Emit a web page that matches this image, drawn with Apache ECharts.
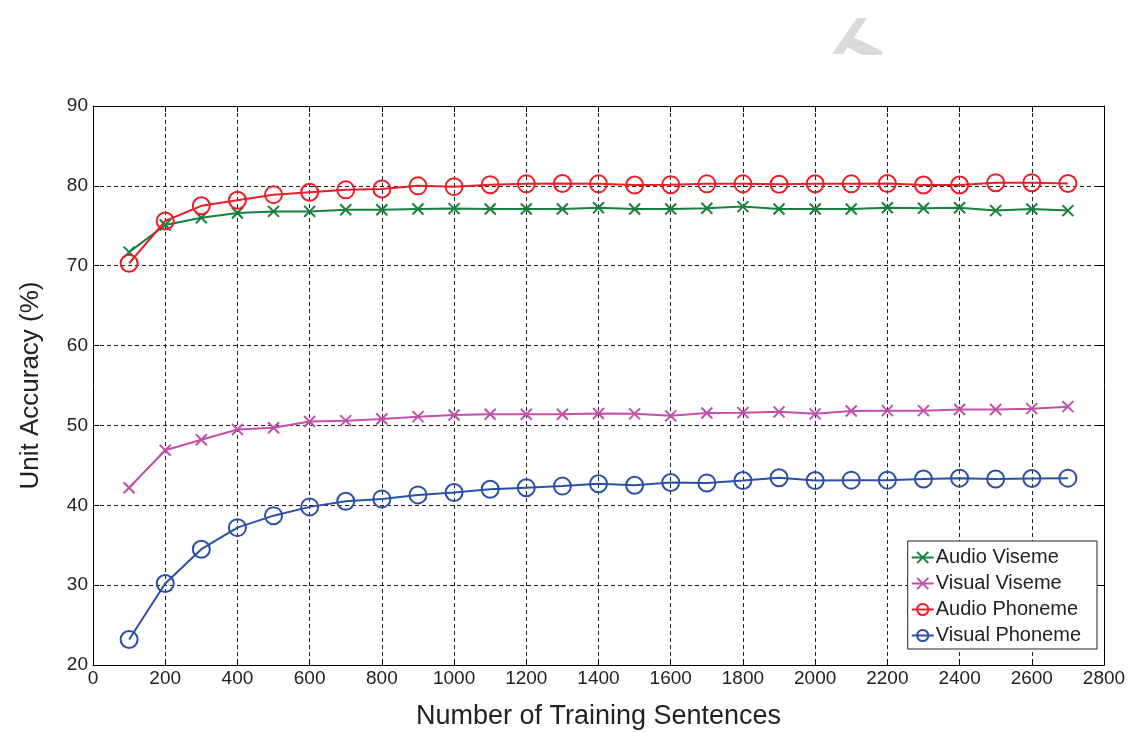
<!DOCTYPE html>
<html><head><meta charset="utf-8">
<script src="https://cdn.jsdelivr.net/npm/echarts@6/dist/echarts.min.js"></script>
<style>html,body{margin:0;padding:0;background:#fff}#c{width:1131px;height:733px}</style>
</head><body><div id="c"></div>
<script>
const sentences = [100,200,300,400,500,600,700,800,900,1000,1100,1200,1300,1400,1500,1600,1700,1800,1900,2000,2100,2200,2300,2400,2500,2600,2700];
const audioViseme = [71.7,75.1,76.0,76.6,76.8,76.8,77.0,77.0,77.1,77.15,77.1,77.1,77.1,77.25,77.1,77.1,77.2,77.4,77.1,77.1,77.1,77.25,77.2,77.25,76.9,77.1,76.9];
const visualViseme = [42.2,46.9,48.2,49.5,49.7,50.5,50.6,50.8,51.1,51.3,51.4,51.4,51.4,51.5,51.45,51.2,51.55,51.6,51.7,51.45,51.8,51.85,51.85,52.0,52.0,52.1,52.35];
const audioPhoneme = [70.3,75.6,77.5,78.2,78.9,79.2,79.5,79.6,80.0,79.9,80.15,80.25,80.3,80.25,80.1,80.15,80.25,80.25,80.2,80.27,80.25,80.3,80.1,80.1,80.4,80.4,80.3];
const visualPhoneme = [23.2,30.2,34.5,37.2,38.7,39.8,40.5,40.8,41.3,41.6,42.0,42.2,42.4,42.7,42.5,42.85,42.8,43.1,43.45,43.1,43.15,43.15,43.3,43.4,43.3,43.35,43.4];
const seriesNames = ['Audio Viseme','Visual Viseme','Audio Phoneme','Visual Phoneme'];
const xTitle = 'Number of Training Sentences';
const yTitle = 'Unit Accuracy (%)';

const pair = arr => sentences.map((s,i)=>[s,arr[i]]);
const crossPath = 'path://M0,0L10,10M10,0L0,10';
const FONT = '"Liberation Sans", Arial, sans-serif';

function crossSeries(name, data, color){
  return {name, type:'line', data:pair(data), symbol:crossPath, symbolSize:11,
    lineStyle:{color, width:2}, itemStyle:{color:'none', borderColor:color, borderWidth:2},
    emphasis:{disabled:true}, z:3};
}
function circleSeries(name, data, color){
  return {name, type:'line', data:pair(data), symbol:'circle', symbolSize:17,
    lineStyle:{color, width:2}, itemStyle:{color:'none', borderColor:color, borderWidth:2},
    emphasis:{disabled:true}, z:3};
}

const chart = echarts.init(document.getElementById('c'));
const axisCommon = {
  axisLine:{show:true, onZero:false, lineStyle:{color:'#000', width:1}},
  axisTick:{show:true, inside:true, length:6, lineStyle:{color:'#000'}},
  splitLine:{show:false}
};
const plain = v => String(v);
chart.setOption({
  animation:false,
  backgroundColor:'#fff',
  textStyle:{fontFamily:FONT},
  grid:{left:93, right:27, top:106, bottom:68, show:false, containLabel:false, outerBoundsMode:'none'},
  xAxis:[
    Object.assign({type:'value', min:0, max:2800, interval:200, position:'bottom',
      name:xTitle, nameLocation:'middle', nameGap:38,
      nameTextStyle:{fontSize:27, color:'#222', fontFamily:FONT},
      axisLabel:{fontSize:19, color:'#222', margin:4, fontFamily:FONT, formatter:plain}}, axisCommon,
      {splitLine:{show:true, lineStyle:{color:'#222', type:[4,3], width:1}}}),
    Object.assign({type:'value', min:0, max:2800, interval:200, position:'top',
      axisLabel:{show:false}}, axisCommon)
  ],
  yAxis:[
    Object.assign({type:'value', min:20, max:90, interval:10, position:'left',
      name:yTitle, nameLocation:'middle', nameGap:49,
      nameTextStyle:{fontSize:26, color:'#222', fontFamily:FONT},
      axisLabel:{fontSize:19, color:'#222', margin:5, fontFamily:FONT, formatter:plain}}, axisCommon,
      {splitLine:{show:true, lineStyle:{color:'#222', type:[4,3], width:1}}}),
    Object.assign({type:'value', min:20, max:90, interval:10, position:'right',
      axisLabel:{show:false}}, axisCommon)
  ],
  legend:{
    data:seriesNames, orient:'vertical', right:34, top:541,
    backgroundColor:'#fff', borderColor:'#222', borderWidth:1,
    padding:[6,16,3,3], itemGap:5, itemWidth:22, itemHeight:14,
    textStyle:{fontSize:20, color:'#222', fontFamily:FONT, lineHeight:21, padding:[0,0,0,-3]}
  },
  series:[
    crossSeries(seriesNames[0], audioViseme, '#16803c'),
    crossSeries(seriesNames[1], visualViseme, '#c050a8'),
    circleSeries(seriesNames[2], audioPhoneme, '#ee1c25'),
    circleSeries(seriesNames[3], visualPhoneme, '#2b4fa6')
  ],
  graphic:[
    {type:'polygon', shape:{points:[[857,18],[867,18],[843,54],[832,54]]}, style:{fill:'#dadada'}, silent:true},
    {type:'polygon', shape:{points:[[853,37],[882,51],[882,55],[862,55],[847,47]]}, style:{fill:'#dadada'}, silent:true}
  ]
});
</script></body></html>
